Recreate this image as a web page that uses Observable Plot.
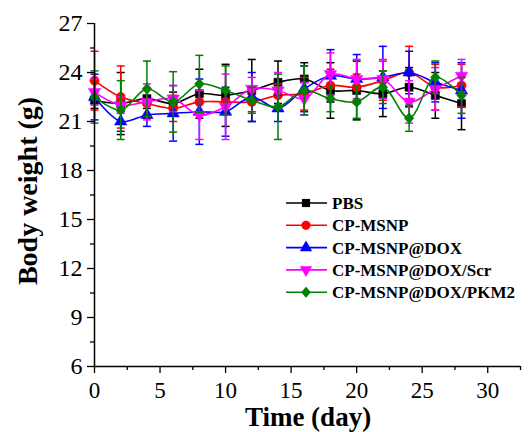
<!DOCTYPE html>
<html><head><meta charset="utf-8">
<script src="https://cdn.jsdelivr.net/npm/d3@7"></script>
<script src="https://cdn.jsdelivr.net/npm/@observablehq/plot@0.6"></script>
<style>body{margin:0;background:#fff} #chart svg{display:block}</style>
</head><body><div id="chart"></div>
<script>
const days = [0, 2, 4, 6, 8, 10, 12, 14, 16, 18, 20, 22, 24, 26, 28];
const seriesNames = ["PBS", "CP-MSNP", "CP-MSNP@DOX", "CP-MSNP@DOX/Scr", "CP-MSNP@DOX/PKM2"];
const seriesColors = ["#000000", "#ff0000", "#0000ff", "#ff00ff", "#008000"];

const pbs      = [22.3, 22.1, 22.4, 22.1, 22.7, 22.6, 22.9, 23.4, 23.6, 22.9, 22.9, 22.7, 23.1, 22.6, 22.1];
const pbsErr   = [0.5, 1.9, 0.6, 0.7, 1.5, 1.9, 1.9, 1.3, 1.0, 1.7, 1.8, 1.4, 1.2, 1.4, 1.6];
const msnp     = [23.5, 22.5, 22.1, 21.8, 22.2, 22.2, 22.2, 22.6, 22.7, 23.2, 23.1, 23.5, 24.0, 23.1, 23.2];
const msnpErr  = [1.8, 1.9, 0.9, 0.8, 0.7, 0.7, 0.6, 0.7, 1.0, 1.0, 0.8, 1.2, 1.6, 1.4, 1.3];
const dox      = [22.5, 21.0, 21.4, 21.5, 21.6, 21.6, 22.5, 21.8, 23.0, 23.8, 23.6, 23.7, 24.0, 23.4, 22.9];
const doxErr   = [1.4, 0.6, 0.7, 1.7, 2.0, 1.5, 1.5, 0.8, 1.4, 1.6, 1.5, 1.9, 1.3, 1.2, 1.7];
const scr      = [22.8, 22.0, 22.2, 22.4, 21.4, 21.9, 23.0, 22.9, 22.4, 23.9, 23.6, 23.6, 22.2, 23.0, 23.8];
const scrErr   = [0.8, 0.5, 1.1, 0.8, 1.5, 2.0, 0.7, 1.1, 1.0, 1.3, 1.2, 1.2, 1.3, 1.3, 1.0];
const pkm2     = [22.5, 21.7, 23.0, 22.2, 23.3, 22.9, 22.3, 21.9, 22.9, 22.4, 22.2, 23.1, 21.2, 23.7, 22.6];
const pkm2Err  = [1.6, 1.8, 1.7, 1.85, 1.75, 1.5, 0.8, 2.0, 1.5, 0.8, 1.0, 1.0, 0.8, 1.0, 1.1];

const xTicks = [0, 5, 10, 15, 20, 25, 30];
const xMinor = [2.5, 7.5, 12.5, 17.5, 22.5, 27.5, 32.5];
const yTicks = [6, 9, 12, 15, 18, 21, 24, 27];
const yMinor = [7.5, 10.5, 13.5, 16.5, 19.5, 22.5, 25.5];
const xTitle = "Time (day)";
const yTitle = "Body weight (g)";

const values = [pbs, msnp, dox, scr, pkm2];
const errors = [pbsErr, msnpErr, doxErr, scrErr, pkm2Err];

const triDown = {draw(ctx, size) {
  const y = -Math.sqrt(size / (Math.sqrt(3) * 3));
  ctx.moveTo(0, -y * 2);
  ctx.lineTo(-Math.sqrt(3) * y, y);
  ctx.lineTo(Math.sqrt(3) * y, y);
  ctx.closePath();
}};
const diamondSym = {draw(ctx, size) {
  const w = Math.sqrt(size / Math.PI) * 1.05, h = w * 1.15;
  ctx.moveTo(0, -h); ctx.lineTo(w, 0); ctx.lineTo(0, h); ctx.lineTo(-w, 0); ctx.closePath();
}};
const capSym = {draw(ctx, size) {
  const w = Math.sqrt(size / Math.PI);
  ctx.moveTo(-w, 0); ctx.lineTo(w, 0);
}};
const symbols = ["square", "circle", "triangle", triDown, diamondSym];
const d3Symbols = [d3.symbolSquare, d3.symbolCircle, d3.symbolTriangle, triDown, diamondSym];

const marks = [];
seriesNames.forEach((name, i) => {
  const rows = days.map((d, j) => ({day: d, v: values[i][j], e: errors[i][j], series: name}));
  const c = seriesColors[i];
  marks.push(Plot.ruleX(rows, {x: "day", y1: d => d.v - d.e, y2: d => d.v + d.e, stroke: c, strokeWidth: 1.5}));
  marks.push(Plot.dot(rows, {x: "day", y: d => d.v + d.e, symbol: capSym, r: 4, stroke: c, fill: "none", strokeWidth: 1.5}));
  marks.push(Plot.dot(rows, {x: "day", y: d => d.v - d.e, symbol: capSym, r: 4, stroke: c, fill: "none", strokeWidth: 1.5}));
  marks.push(Plot.line(rows, {x: "day", y: "v", stroke: c, strokeWidth: 1.6, curve: "catmull-rom"}));
  marks.push(Plot.dot(rows, {x: "day", y: "v", symbol: symbols[i], r: 4.6, fill: c, stroke: c, strokeWidth: 0.5}));
});

const plot = Plot.plot({
  width: 528, height: 432,
  marginLeft: 94, marginRight: 8, marginTop: 23, marginBottom: 66,
  x: {domain: [0, 32.5], label: null},
  y: {domain: [6, 27], label: null},
  style: {fontFamily: "'Liberation Serif', serif", color: "#000", background: "#fff"},
  marks: [
    Plot.axisX(xTicks, {tickSize: 7, tickPadding: 8, fontSize: 23, label: null, strokeWidth: 1.3}),
    Plot.axisX(xMinor, {tickSize: 4, tickFormat: () => "", label: null, strokeWidth: 1.3}),
    Plot.axisY(yTicks, {tickSize: 7, tickPadding: 5, fontSize: 24, label: null, strokeWidth: 1.3}),
    Plot.axisY(yMinor, {tickSize: 4, tickFormat: () => "", label: null, strokeWidth: 1.3}),
    ...marks,
    Plot.ruleY([6], {strokeWidth: 1.5}),
    Plot.ruleX([0], {strokeWidth: 1.5})
  ]
});
document.getElementById("chart").appendChild(plot);

const svg = d3.select(plot);
svg.append("text")
  .attr("x", 308).attr("y", 426)
  .attr("text-anchor", "middle")
  .attr("font-family", "'Liberation Serif', serif")
  .attr("font-weight", "bold").attr("font-size", 27)
  .text(xTitle);
svg.append("text")
  .attr("transform", "translate(37,191) rotate(-90)")
  .attr("text-anchor", "middle")
  .attr("font-family", "'Liberation Serif', serif")
  .attr("font-weight", "bold").attr("font-size", 28)
  .text(yTitle);

const leg = svg.append("g");
seriesNames.forEach((name, i) => {
  const y = 203 + i * 22.3;
  const g = leg.append("g").attr("transform", `translate(0,${y})`);
  g.append("line").attr("x1", 286).attr("x2", 327).attr("y1", 0).attr("y2", 0)
    .attr("stroke", seriesColors[i]).attr("stroke-width", 1.6);
  const rr = 4.6;
  g.append("path").attr("transform", "translate(306,0)")
    .attr("d", d3.symbol(d3Symbols[i], Math.PI * rr * rr)())
    .attr("fill", seriesColors[i]);
  g.append("text").attr("x", 332).attr("y", 0).attr("dy", "0.35em")
    .attr("text-anchor", "start")
    .attr("font-family", "'Liberation Serif', serif")
    .attr("font-weight", "bold").attr("font-size", 17)
    .text(name);
});
</script>
</body></html>
